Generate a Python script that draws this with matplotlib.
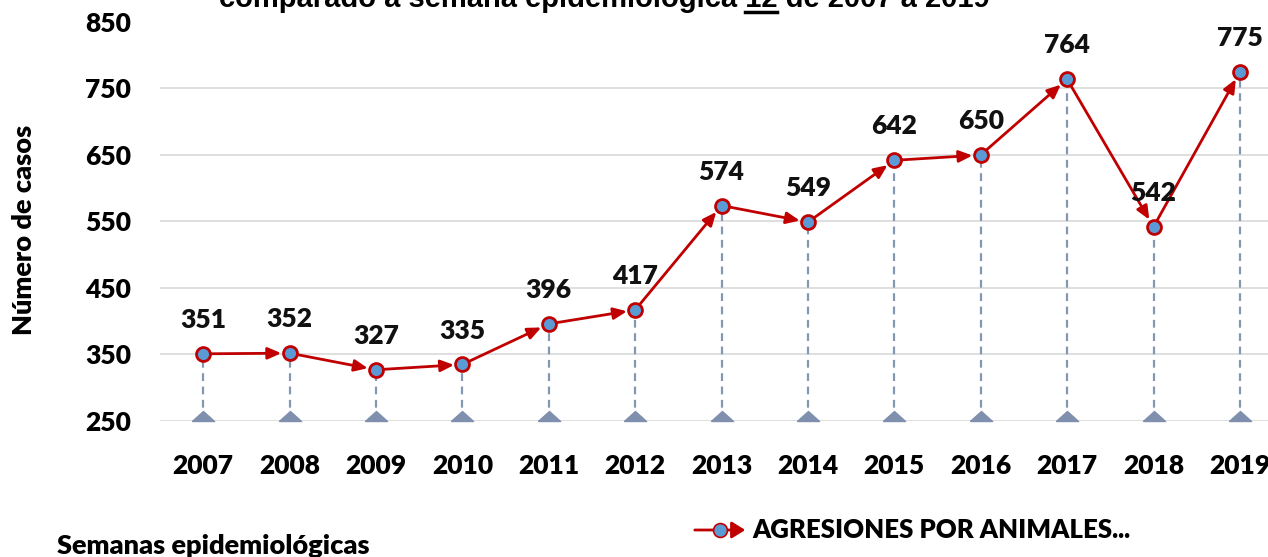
import numpy as np
import matplotlib
matplotlib.use("Agg")
import matplotlib.pyplot as plt
from matplotlib.patches import FancyArrowPatch
from matplotlib.lines import Line2D

years = ["2007", "2008", "2009", "2010", "2011", "2012", "2013",
         "2014", "2015", "2016", "2017", "2018", "2019"]
cases = [351, 352, 327, 335, 396, 417, 574, 549, 642, 650, 764, 542, 775]
yticks = [250, 350, 450, 550, 650, 750, 850]

title_pre = "comparado a semana epidemiológica "
title_num = "12"
title_post = " de 2007 a 2019"
series_name = "AGRESIONES POR ANIMALES..."

plt.rcParams['font.family'] = ['Lato', 'DejaVu Sans']
W = "heavy"

red = "#C00000"
blue = "#5B9BD5"
drop = "#8497B0"

fig = plt.figure(figsize=(12.68, 5.57), dpi=100)
ax = fig.add_axes([0.1262, 0.2442, 0.8857, 0.7163])

x = np.arange(len(years))
ax.set_xlim(-0.5, len(years) - 0.5)
ax.set_ylim(250, 850)

# grid
for v in yticks[:-1]:
    ax.axhline(v, color="#D9D9D9", lw=1.2, zorder=0)

# drop lines with triangles
for xi, yi in zip(x, cases):
    ax.plot([xi, xi], [250, yi], color=drop, lw=1.6, ls=(0, (3.5, 2.5)), zorder=1)
tri = [(-1, 0), (1, 0), (0, 0.9), (-1, 0)]
ax.plot(x, [250] * len(x), ls="none", marker=tri, ms=16, color="#7F8FAE",
        clip_on=False, zorder=2)

# line segments with arrowheads
for i in range(len(x) - 1):
    ax.annotate("", xy=(x[i + 1], cases[i + 1]), xytext=(x[i], cases[i]),
                arrowprops=dict(arrowstyle="-|>,head_length=0.8,head_width=0.35",
                                color=red, lw=2, shrinkA=0, shrinkB=6),
                zorder=3)
ax.plot(x, cases, ls="none", marker="o", ms=10, mfc=blue, mec=red, mew=2,
        zorder=4)

for xi, yi in zip(x, cases):
    ax.text(xi, yi + 33, str(yi), ha="center", va="bottom", fontsize=19,
            fontweight=W, color="#111111")

ax.set_xticks(x)
ax.set_xticklabels(years, fontsize=19, fontweight=W)
ax.set_yticks(yticks)
ax.set_yticklabels([str(v) for v in yticks], fontsize=19, fontweight=W)
ax.tick_params(length=0)
ax.tick_params(axis="x", pad=24)
ax.tick_params(axis="y", pad=21)
for s in ax.spines.values():
    s.set_visible(False)

ax.set_ylabel("Número de casos", fontsize=19.5, fontweight=W)
ax.yaxis.set_label_coords(-0.11, 0.48)

fig.text(57 / 1268, 1 - 546 / 557, "Semanas epidemiológicas", fontsize=19.5,
         fontweight=W, va="center", ha="left")

# title, cut at the top, with the week number underlined
tfont = dict(family="Liberation Sans", fontsize=21, fontweight="bold")
ty = 1 - 7 / 557
full = title_pre + title_num + title_post
t = fig.text(604 / 1268, ty, full, ha="center", va="baseline", **tfont)
fig.canvas.draw()
r = fig.canvas.get_renderer()
bb = t.get_window_extent(r)
tmp = fig.text(0, 0, title_pre, **tfont)
w_pre = tmp.get_window_extent(r).width
tmp.set_text(title_pre + title_num)
w_num = tmp.get_window_extent(r).width
tmp.remove()
x0 = (bb.x0 + w_pre) / fig.bbox.width
x1 = (bb.x0 + w_num) / fig.bbox.width
fig.add_artist(Line2D([x0, x1], [ty - 5 / 557] * 2, color="black", lw=2.5))

# legend drawn by hand
ly = 1 - 530 / 557
fig.add_artist(FancyArrowPatch((692 / 1268, ly), (748 / 1268, ly),
                               transform=fig.transFigure,
                               arrowstyle="-|>,head_length=8,head_width=5",
                               color=red, lw=2, mutation_scale=1))
fig.add_artist(Line2D([720 / 1268], [ly], marker="o", ms=10, mfc=blue,
                      mec=red, mew=1.2))
fig.text(752 / 1268, ly, series_name, fontsize=18.5, fontweight=W,
         va="center", ha="left")

fig.savefig("out.png", dpi=100)
